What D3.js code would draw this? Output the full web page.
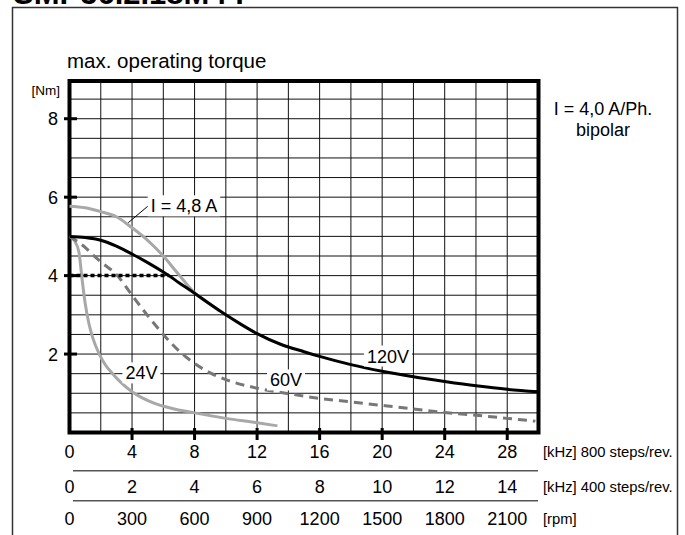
<!DOCTYPE html>
<html><head><meta charset="utf-8">
<script src="https://cdn.jsdelivr.net/npm/d3@7"></script>
<style>
html,body{margin:0;padding:0;background:#fff;}
svg{display:block;font-family:"Liberation Sans",Arial,Helvetica,sans-serif;}
</style></head>
<body>
<svg id="chart" width="685" height="535"></svg>
<script>
// ---- data ----
const title = "SMP56.2.18M4 .";
const chartTitle = "max. operating torque";
const yUnit = "[Nm]";
const legendLines = ["I = 4,0 A/Ph.", "bipolar"];

const yTicks = [2, 4, 6, 8];
const kHz800Ticks = [0, 4, 8, 12, 16, 20, 24, 28];
const kHz400Ticks = [0, 2, 4, 6, 8, 10, 12, 14];
const rpmTicks = [0, 300, 600, 900, 1200, 1500, 1800, 2100];
const rowUnits = ["[kHz] 800 steps/rev.", "[kHz] 400 steps/rev.", "[rpm]"];

// speeds in kHz (800 steps/rev), torques in Nm
const v120Speed  = [0, 1, 2, 3, 4, 5, 6, 6.35, 7, 8, 9, 10, 11, 12, 13.5, 15, 16, 18, 20, 22, 24, 26, 28, 30];
const v120Torque = [5.0, 4.97, 4.9, 4.75, 4.55, 4.33, 4.09, 4.0, 3.82, 3.55, 3.27, 3.0, 2.75, 2.52, 2.25, 2.06, 1.94, 1.73, 1.56, 1.42, 1.30, 1.19, 1.10, 1.04];

const i48Speed  = [0, 1, 2, 3, 4, 5, 6, 7, 8, 9, 9.6];
const i48Torque = [5.77, 5.73, 5.63, 5.5, 5.22, 4.9, 4.5, 4.02, 3.56, 3.27, 3.1];

const v60Speed  = [0, 0.5, 1, 1.5, 2, 3, 4, 5, 6, 7, 8, 9, 10, 12, 14, 16, 18, 20, 22, 24, 26, 28, 29.8];
const v60Torque = [5.0, 4.87, 4.72, 4.53, 4.35, 4.03, 3.5, 2.98, 2.5, 2.08, 1.76, 1.52, 1.35, 1.13, 0.99, 0.87, 0.78, 0.69, 0.60, 0.51, 0.44, 0.36, 0.29];

const v24Speed  = [0, 0.3, 0.6, 0.81, 1.0, 1.24, 1.5, 1.88, 2.3, 2.73, 3.3, 4.0, 5.4, 6.5, 8, 10, 12, 13.3];
const v24Torque = [5.0, 4.9, 4.6, 3.89, 3.3, 2.78, 2.4, 2.02, 1.72, 1.51, 1.27, 1.04, 0.75, 0.62, 0.50, 0.36, 0.25, 0.17];

const ratedSpeed  = [0, 6.35];
const ratedTorque = [4, 4];

const curveLabels = ["I = 4,8 A", "24V", "60V", "120V"];

// ---- drawing ----
const svg = d3.select("#chart");

// outer frame
svg.append("rect").attr("x", 12.5).attr("y", 7.5).attr("width", 665).attr("height", 560)
  .attr("fill", "none").attr("stroke", "#333").attr("stroke-width", 1.5);

// heading (cropped by the top edge, as in the reference)
svg.append("text").attr("x", 13).attr("y", 4).attr("font-size", 31).attr("font-weight", "bold")
  .attr("fill", "#000").text(title);

const x = d3.scaleLinear().domain([0, 30]).range([69.5, 538.5]);
const y = d3.scaleLinear().domain([0, 9]).range([432.5, 79.5]);
const x400 = d3.scaleLinear().domain([0, 15]).range([69.5, 538.5]);
const xRpm = d3.scaleLinear().domain([0, 2250]).range([69.5, 538.5]);

// grid
const g = svg.append("g");
g.selectAll("line.v").data(d3.range(2, 30, 2)).join("line")
  .attr("x1", d => x(d)).attr("x2", d => x(d)).attr("y1", y(9)).attr("y2", y(0))
  .attr("stroke", "#111").attr("stroke-width", 1);
g.selectAll("line.h").data(d3.range(0.5, 9, 0.5)).join("line")
  .attr("x1", x(0)).attr("x2", x(30)).attr("y1", d => y(d)).attr("y2", d => y(d))
  .attr("stroke", "#111").attr("stroke-width", 1);

// frame of plot
svg.append("rect").attr("x", x(0)).attr("y", 81).attr("width", x(30) - x(0)).attr("height", y(0) - 81)
  .attr("fill", "none").attr("stroke", "#000").attr("stroke-width", 4);

// y ticks
svg.selectAll("line.yt").data(yTicks).join("line")
  .attr("x1", 64).attr("x2", 77).attr("y1", d => y(d)).attr("y2", d => y(d))
  .attr("stroke", "#000").attr("stroke-width", 3);
svg.selectAll("text.yl").data(yTicks).join("text")
  .attr("x", 58).attr("y", d => y(d) + 6.5).attr("text-anchor", "end")
  .attr("font-size", 18).text(d => d);

// x ticks
svg.selectAll("line.xt").data(kHz800Ticks.filter(d => d > 0)).join("line")
  .attr("x1", d => x(d)).attr("x2", d => x(d)).attr("y1", 428).attr("y2", 440)
  .attr("stroke", "#000").attr("stroke-width", 3);

// lines
const line = d3.line().x(d => x(d[0])).y(d => y(d[1])).curve(d3.curveMonotoneX);
const zip = (a, b) => a.map((v, i) => [v, b[i]]);

svg.append("path").attr("d", line(zip(i48Speed, i48Torque)))
  .attr("fill", "none").attr("stroke", "#a8a8a8").attr("stroke-width", 3);
svg.append("path").attr("d", line(zip(v24Speed, v24Torque)))
  .attr("fill", "none").attr("stroke", "#a8a8a8").attr("stroke-width", 3);
svg.append("path").attr("d", line(zip(v60Speed, v60Torque)))
  .attr("fill", "none").attr("stroke", "#777").attr("stroke-width", 3).attr("stroke-dasharray", "9,6");
svg.append("path").attr("d", d3.line().x(d => x(d[0])).y(d => y(d[1]))(zip(ratedSpeed, ratedTorque)))
  .attr("fill", "none").attr("stroke", "#000").attr("stroke-width", 3.5).attr("stroke-dasharray", "4,3");
svg.append("path").attr("d", line(zip(v120Speed, v120Torque)))
  .attr("fill", "none").attr("stroke", "#000").attr("stroke-width", 3);

// leader line for I = 4,8 A
svg.append("line").attr("x1", x(3.76)).attr("y1", y(5.35)).attr("x2", x(5.1)).attr("y2", y(5.8))
  .attr("stroke", "#000").attr("stroke-width", 1);

// curve labels (anchored in data coordinates)
const labelPos = [[7.32, 5.78], [4.6, 1.52], [13.85, 1.34], [20.37, 1.95]];
curveLabels.forEach((t, i) => {
  const cx = x(labelPos[i][0]), cy = y(labelPos[i][1]);
  const txt = svg.append("text").attr("x", cx).attr("y", cy + 6.5).attr("text-anchor", "middle")
    .attr("font-size", 18).text(t);
  const bb = txt.node().getBBox();
  svg.insert("rect", () => txt.node()).attr("x", bb.x - 3).attr("y", cy - 10.5)
    .attr("width", bb.width + 6).attr("height", 21).attr("fill", "#fff");
});

// titles
svg.append("text").attr("x", 67).attr("y", 68).attr("font-size", 20.5).text(chartTitle);
svg.append("text").attr("x", 60).attr("y", 95).attr("text-anchor", "end").attr("font-size", 13.5).text(yUnit);
svg.selectAll("text.leg").data(legendLines).join("text")
  .attr("x", 603).attr("y", (d, i) => 115 + i * 21).attr("text-anchor", "middle")
  .attr("font-size", 18).text(d => d);

// x label rows
const rows = [[kHz800Ticks, x], [kHz400Ticks, x400], [rpmTicks, xRpm]];
const rowBase = [458, 492.5, 525];
rows.forEach(([ticks, sc], r) => {
  svg.selectAll("text.r" + r).data(ticks).join("text")
    .attr("x", d => sc(d)).attr("y", rowBase[r]).attr("text-anchor", "middle")
    .attr("font-size", 18).text(d => d);
  svg.append("text").attr("x", 543).attr("y", rowBase[r] - 1).attr("font-size", 14.8).text(rowUnits[r]);
});
[470.7, 500.7].forEach(yy => {
  svg.append("line").attr("x1", 73).attr("x2", 538).attr("y1", yy).attr("y2", yy)
    .attr("stroke", "#555").attr("stroke-width", 1.5);
});
</script>
</body></html>
